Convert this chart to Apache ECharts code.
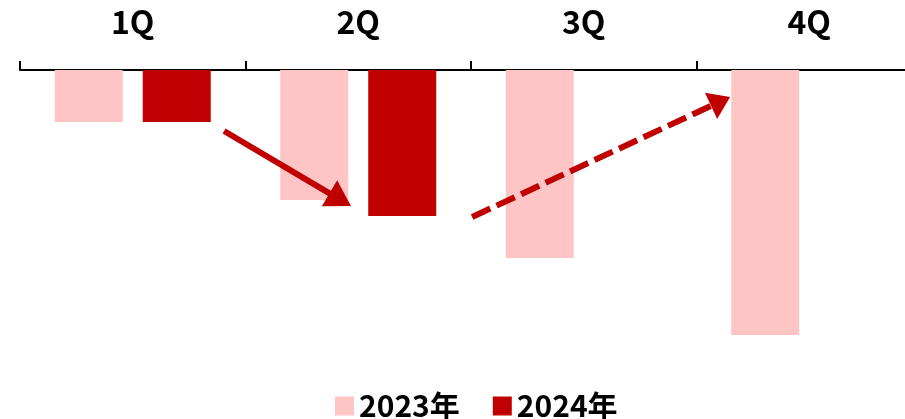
<!DOCTYPE html>
<html>
<head>
<meta charset="utf-8">
<script src="https://cdn.jsdelivr.net/npm/echarts@6/dist/echarts.min.js"></script>
<style>
html,body{margin:0;padding:0;background:#fff;}
#main{width:905px;height:419px;}
</style>
</head>
<body>
<div id="main"></div>
<script>
const categories = ['1Q', '2Q', '3Q', '4Q'];
const seriesNames = ['2023年', '2024年'];
const values2023 = [-5.2, -13.0, -18.8, -26.5];
const values2024 = [-5.2, -14.6, null, null];
// arrow annotations in data space: [category index (fractional), value]
const arrowSolid = [[0.405, -6.1], [0.968, -13.6]];
const arrowDashed = [[1.505, -14.7], [2.649, -2.7]];

const FONT = '"Noto Sans CJK JP", "Noto Sans", sans-serif';
const PINK = '#FFC5C5';
const RED = '#C00000';

const chart = echarts.init(document.getElementById('main'), null, {renderer: 'canvas'});
chart.setOption({
  animation: false,
  backgroundColor: '#fff',
  grid: {left: 20, top: 70, width: 902, height: 300, outerBoundsMode: 'none', containLabel: false},
  legend: {
    data: seriesNames,
    left: 330, top: 386,
    itemWidth: 19, itemHeight: 19, itemGap: 33,
    icon: 'rect',
    textStyle: {fontFamily: FONT, fontSize: 30, fontWeight: 'bold', color: '#000', padding: [0, 0, 0, 0]}
  },
  xAxis: {
    type: 'category',
    position: 'top',
    data: categories,
    axisLine: {show: true, lineStyle: {color: '#000', width: 2}},
    axisTick: {show: true, length: 9, lineStyle: {color: '#000', width: 2}},
    axisLabel: {fontFamily: FONT, fontSize: 32, fontWeight: 'bold', color: '#000', margin: 32}
  },
  yAxis: {type: 'value', min: -30, max: 0, show: false, splitLine: {show: false}},
  series: [
    {name: seriesNames[0], type: 'bar', data: values2023, barWidth: 68, barGap: '29.4%', itemStyle: {color: PINK}},
    {name: seriesNames[1], type: 'bar', data: values2024, barWidth: 68, barGap: '29.4%', itemStyle: {color: RED}}
  ]
});

function toPx(pt) {
  const a = chart.convertToPixel({xAxisIndex: 0}, 0);
  const b = chart.convertToPixel({xAxisIndex: 0}, 1);
  const x = a + (b - a) * pt[0];
  const y = chart.convertToPixel({yAxisIndex: 0}, pt[1]);
  return [x, y];
}
function arrow(def, dashed, headLen, headW) {
  const s = toPx(def[0]), t = toPx(def[1]);
  const dx = t[0] - s[0], dy = t[1] - s[1];
  const L = Math.sqrt(dx * dx + dy * dy);
  const ux = dx / L, uy = dy / L;
  const bx = t[0] - ux * headLen, by = t[1] - uy * headLen;
  const nx = -uy, ny = ux;
  return [
    {type: 'line', shape: {x1: s[0], y1: s[1], x2: bx + ux * 2, y2: by + uy * 2},
     style: {stroke: RED, lineWidth: 6, lineDash: dashed ? [20, 7] : null}, z: 10},
    {type: 'polygon', shape: {points: [t, [bx + nx * headW / 2, by + ny * headW / 2], [bx - nx * headW / 2, by - ny * headW / 2]]},
     style: {fill: RED}, z: 10}
  ];
}
chart.setOption({
  graphic: [].concat(arrow(arrowSolid, false, 25, 30), arrow(arrowDashed, true, 21, 29))
});
</script>
</body>
</html>
